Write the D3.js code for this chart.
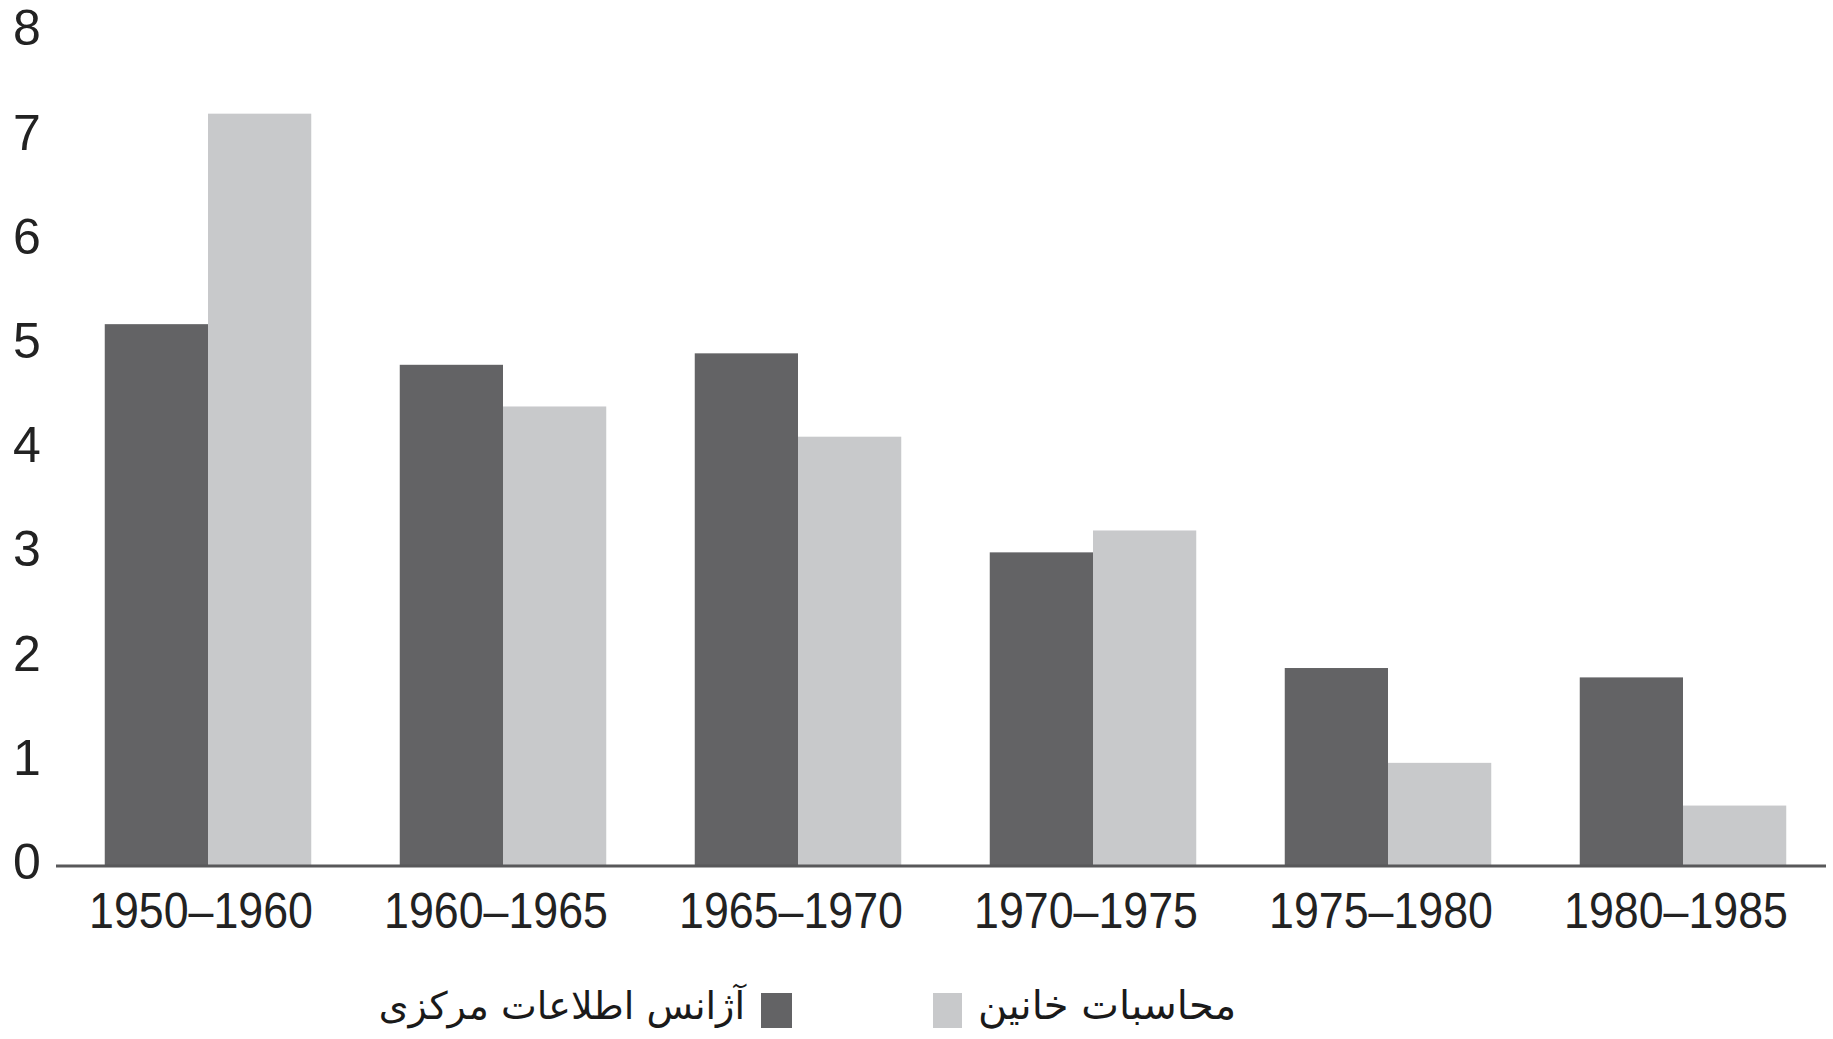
<!DOCTYPE html>
<html>
<head>
<meta charset="utf-8">
<script src="https://cdn.jsdelivr.net/npm/d3@7"></script>
<style>
  body { margin: 0; background: #fff; }
  svg { display: block; }
</style>
</head>
<body>
<div id="graph"></div>
<script>
// data
const periods = ["1950–1960", "1960–1965", "1965–1970", "1970–1975", "1975–1980", "1980–1985"];
const cia = [5.2, 4.81, 4.92, 3.01, 1.9, 1.81];
const khanin = [7.22, 4.41, 4.12, 3.22, 0.99, 0.58];
const yTicks = [0, 1, 2, 3, 4, 5, 6, 7, 8];
const seriesNames = ["آژانس اطلاعات مرکزی", "محاسبات خانین"];

const W = 1833, H = 1039;
const dark = "#636365", light = "#c8c9cb";

const svg = d3.select("#graph")
  .append("svg")
    .attr("width", W)
    .attr("height", H);

// x scale for groups, inner scale for the two bars
const x = d3.scaleBand()
  .domain(periods)
  .range([60.5, 1830.5])
  .paddingInner(0.3)
  .paddingOuter(0.15);
const xSub = d3.scaleBand()
  .domain([0, 1])
  .range([0, x.bandwidth()]);

// y scale
const y = d3.scaleLinear()
  .domain([0, 8])
  .range([866, 32.4]);

// bars
const rows = periods.map((p, i) => ({period: p, vals: [cia[i], khanin[i]]}));
const groups = svg.selectAll("g.grp")
  .data(rows)
  .join("g")
    .attr("class", "grp")
    .attr("transform", d => `translate(${x(d.period)},0)`);
groups.selectAll("rect")
  .data(d => d.vals.map((v, k) => ({k, v})))
  .join("rect")
    .attr("x", d => xSub(d.k))
    .attr("y", d => y(d.v))
    .attr("width", xSub.bandwidth())
    .attr("height", d => y(0) - y(d.v))
    .attr("fill", d => d.k === 0 ? dark : light);

// baseline
svg.append("line")
  .attr("x1", 56).attr("x2", 1826)
  .attr("y1", y(0)).attr("y2", y(0))
  .attr("stroke", "#58585a")
  .attr("stroke-width", 3);

// Y axis (labels only)
const yAxis = svg.append("g")
  .attr("transform", "translate(27,0)")
  .call(d3.axisLeft(y).tickValues(yTicks).tickSize(0).tickPadding(0).tickFormat(d3.format("d")));
yAxis.select(".domain").remove();
yAxis.selectAll("text")
  .attr("text-anchor", "middle")
  .attr("dy", "0.25em")
  .attr("fill", "#222")
  .style("font-family", "'Liberation Sans', Arial, sans-serif")
  .style("font-size", "50px");

// X axis
const xAxis = svg.append("g")
  .attr("transform", `translate(0,${y(0)})`)
  .call(d3.axisBottom(x).tickSize(0).tickPadding(0));
xAxis.select(".domain").remove();
xAxis.selectAll("text")
  .attr("x", -7)
  .attr("y", 46)
  .attr("dy", "0.32em")
  .attr("fill", "#222")
  .attr("textLength", 224)
  .attr("lengthAdjust", "spacingAndGlyphs")
  .style("font-family", "'Liberation Sans', Arial, sans-serif")
  .style("font-size", "50px");

// legend
const legend = svg.append("g");
legend.append("rect")
  .attr("x", 761).attr("y", 993).attr("width", 31).attr("height", 35)
  .attr("fill", dark);
legend.append("rect")
  .attr("x", 933).attr("y", 993).attr("width", 29).attr("height", 35)
  .attr("fill", light);
legend.append("text")
  .attr("x", 745).attr("y", 1008)
  .attr("text-anchor", "end")
  .attr("dominant-baseline", "middle")
  .attr("fill", "#1a1a1a")
  .style("font-family", "'DejaVu Sans', sans-serif")
  .style("font-size", "38px")
  .text(seriesNames[0]);
legend.append("text")
  .attr("x", 978).attr("y", 1008)
  .attr("text-anchor", "start")
  .attr("dominant-baseline", "middle")
  .attr("fill", "#1a1a1a")
  .style("font-family", "'DejaVu Sans', sans-serif")
  .style("font-size", "40px")
  .text(seriesNames[1]);
</script>
</body>
</html>
